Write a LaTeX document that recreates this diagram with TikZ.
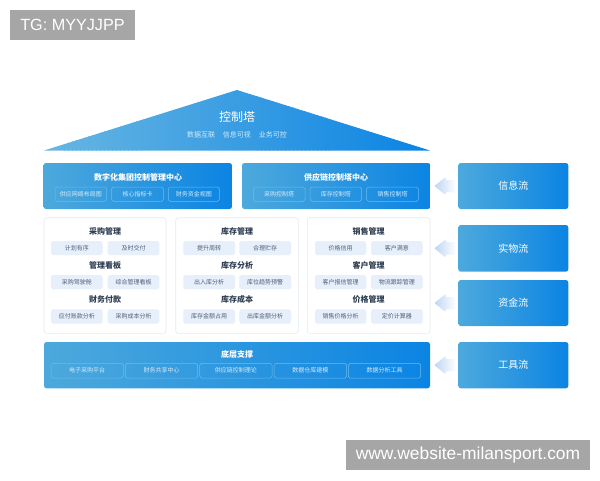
\documentclass[tikz,border=0pt]{standalone}
\usepackage{fontspec}
\setmainfont{Noto Sans CJK SC}
\newfontfamily\wmfont{Liberation Sans}
\usetikzlibrary{calc}
\definecolor{bluel}{HTML}{4DA9DC}
\definecolor{bluer}{HTML}{0B84E3}
\definecolor{roofl}{HTML}{68B6E2}
\definecolor{chipedge}{HTML}{6DBBEC}
\definecolor{softtxt}{HTML}{D5ECFA}
\definecolor{chipfill}{HTML}{E6EFFA}
\definecolor{chiptxt}{HTML}{4F6076}
\definecolor{headtxt}{HTML}{2F3E52}
\definecolor{panedge}{HTML}{E2EAF3}
\definecolor{wm}{HTML}{A6A6A6}
\definecolor{arrowtip}{HTML}{BDD5F5}
\tikzset{
 x=1pt,y=-1pt,
 bluebox/.style={rectangle,rounded corners=2.5pt,inner sep=0pt,left color=bluel,right color=bluer,text=white},
 panelbox/.style={rectangle,rounded corners=2.5pt,inner sep=0pt,fill=white,draw=panedge,line width=.6pt},
 glass/.style={rectangle,rounded corners=1.8pt,inner sep=0pt,draw=chipedge,line width=.5pt,text=softtxt,font=\fontsize{6}{6}\selectfont},
 chipbox/.style={rectangle,rounded corners=1.8pt,inner sep=0pt,fill=chipfill,text=chiptxt,font=\fontsize{6}{6}\selectfont},
 headtext/.style={inner sep=0pt,text=headtxt,font=\fontsize{8}{8}\selectfont\bfseries},
 bluehead/.style={inner sep=0pt,text=white,font=\fontsize{8}{8}\selectfont\bfseries},
 flowtext/.style={inner sep=0pt,text=white,font=\fontsize{10}{10}\selectfont},
 wmbox/.style={rectangle,inner sep=0pt,fill=wm,text=white},
}
% style, name, x1, y1, x2, y2, text
\newcommand{\rbox}[7]{%
 \pgfmathsetmacro{\cxv}{(#3+#5)/2}\pgfmathsetmacro{\cyv}{(#4+#6)/2}%
 \pgfmathsetmacro{\wv}{#5-#3}\pgfmathsetmacro{\hv}{#6-#4}%
 \node[#1,minimum width=\wv pt,minimum height=\hv pt] (#2) at (\cxv,\cyv) {#7};}
% flat vertical slices from x0 to x1, y0 to y1, colour A to colour B, n slices
\newcommand{\slices}[7]{%
 \pgfmathsetmacro{\stepw}{(#2-#1)/#7}%
 \foreach \i in {1,...,#7}{%
  \pgfmathsetmacro{\pc}{100*(\i-1)/(#7-1)}%
  \pgfmathsetmacro{\xa}{#1+\stepw*(\i-1)}%
  \pgfmathsetmacro{\xb}{#1+\stepw*\i+0.4}%
  \fill[#6!\pc!#5] (\xa,#3) rectangle (\xb,#4);}}
\newcommand{\flowhead}[1]{%
 \begin{scope}[shift={(#1.west)}]
 \clip (-23.5,0) -- (-13,-8.5) -- (-12,-6) -- (-1,-6) -- (-1,6) -- (-12,6) -- (-13,8.5) -- cycle;
 \slices{-24}{-1}{-10}{10}{arrowtip}{white}{23}
 \end{scope}}
\begin{document}
\begin{tikzpicture}
\useasboundingbox (0,0) rectangle (600,480);
% watermarks
\rbox{wmbox}{wmA}{10}{10}{135}{40}{\wmfont\fontsize{16.2}{16.2}\selectfont TG: MYYJJPP}
\rbox{wmbox}{wmB}{346}{440}{590}{470}{\wmfont\fontsize{17.4}{17.4}\selectfont www.website-milansport.com}
% roof
\coordinate (apex) at (237,90);
\coordinate (roofL) at (44,150.5);
\coordinate (roofR) at (430,150.5);
\begin{scope}
\clip (apex) -- (roofR) -- (roofL) -- cycle;
\slices{44}{430}{89}{151}{roofl}{bluer}{96}
\end{scope}
\node[inner sep=0pt,text=white,font=\fontsize{12}{12}\selectfont] (roofT) at (237,117) {控制塔};
\node[inner sep=0pt,text=softtxt,font=\fontsize{7}{7}\selectfont] (roofS) at (237,134.5) {数据互联\hspace{8pt}信息可视\hspace{8pt}业务可控};
% control centres
\rbox{bluebox}{ctrA}{43.5}{163}{232}{209}{}
\node[bluehead] (ctrAt) at (138,177) {数字化集团控制管理中心};
\rbox{glass}{a1}{55}{187}{106.7}{201.3}{供应网络布局图}
\rbox{glass}{a2}{111.7}{187}{163.3}{201.3}{核心指标卡}
\rbox{glass}{a3}{168.3}{187}{219.3}{201.3}{财务资金视图}
\rbox{bluebox}{ctrB}{242}{163}{430.3}{209}{}
\node[bluehead] (ctrBt) at (336,177) {供应链控制塔中心};
\rbox{glass}{b1}{253.3}{187}{305}{201.3}{采购控制塔}
\rbox{glass}{b2}{310}{187}{361.7}{201.3}{库存控制塔}
\rbox{glass}{b3}{366.7}{187}{418.3}{201.3}{销售控制塔}
% panels
\rbox{panelbox}{p1}{44}{217.7}{166}{333.3}{}
\rbox{panelbox}{p2}{175.7}{217.7}{298.3}{333.3}{}
\rbox{panelbox}{p3}{307.3}{217.7}{430}{333.3}{}
% panel 1
\node[headtext] (p1t1) at (105,231.3) {采购管理};
\rbox{chipbox}{c11}{51}{241}{102.7}{255}{计划有序}
\rbox{chipbox}{c12}{107.7}{241}{159.3}{255}{及时交付}
\node[headtext] (p1t2) at (105,265.7) {管理看板};
\rbox{chipbox}{c13}{51}{275}{102.7}{289.3}{采购驾驶舱}
\rbox{chipbox}{c14}{107.7}{275}{159.3}{289.3}{综合管理看板}
\node[headtext] (p1t3) at (105,299.7) {财务付款};
\rbox{chipbox}{c15}{51}{309.3}{102.7}{323.7}{应付账款分析}
\rbox{chipbox}{c16}{107.7}{309.3}{159.3}{323.7}{采购成本分析}
% panel 2
\node[headtext] (p2t1) at (237,231.3) {库存管理};
\rbox{chipbox}{c21}{183.3}{241}{235}{255}{提升周转}
\rbox{chipbox}{c22}{239.3}{241}{291}{255}{合理贮存}
\node[headtext] (p2t2) at (237,265.7) {库存分析};
\rbox{chipbox}{c23}{183.3}{275}{235}{289.3}{出入库分析}
\rbox{chipbox}{c24}{239.3}{275}{291}{289.3}{库位趋势预警}
\node[headtext] (p2t3) at (237,299.7) {库存成本};
\rbox{chipbox}{c25}{183.3}{309.3}{235}{323.7}{库存金额占用}
\rbox{chipbox}{c26}{239.3}{309.3}{291}{323.7}{出库金额分析}
% panel 3
\node[headtext] (p3t1) at (368.7,231.3) {销售管理};
\rbox{chipbox}{c31}{315}{241}{366.3}{255}{价格信用}
\rbox{chipbox}{c32}{371}{241}{422.7}{255}{客户满意}
\node[headtext] (p3t2) at (368.7,265.7) {客户管理};
\rbox{chipbox}{c33}{315}{275}{366.3}{289.3}{客户报信管理}
\rbox{chipbox}{c34}{371}{275}{422.7}{289.3}{物流跟踪管理}
\node[headtext] (p3t3) at (368.7,299.7) {价格管理};
\rbox{chipbox}{c35}{315}{309.3}{366.3}{323.7}{销售价格分析}
\rbox{chipbox}{c36}{371}{309.3}{422.7}{323.7}{定价计算器}
% base
\rbox{bluebox}{base}{44}{342}{430}{388.3}{}
\node[bluehead] (baset) at (237,354.3) {底层支撑};
\rbox{glass}{d1}{51}{363.3}{123.3}{378}{电子采购平台}
\rbox{glass}{d2}{125.3}{363.3}{197.7}{378}{财务共享中心}
\rbox{glass}{d3}{199.7}{363.3}{272}{378}{供应链控制理论}
\rbox{glass}{d4}{274}{363.3}{346.7}{378}{数据仓库建模}
\rbox{glass}{d5}{348.3}{363.3}{420.7}{378}{数据分析工具}
% flows
\rbox{bluebox,flowtext}{f1}{458.3}{163}{568.3}{209}{信息流}
\rbox{bluebox,flowtext}{f2}{458.3}{225}{568.3}{271.7}{实物流}
\rbox{bluebox,flowtext}{f3}{458.3}{280}{568.3}{326}{资金流}
\rbox{bluebox,flowtext}{f4}{458.3}{342}{568.3}{388.3}{工具流}
\flowhead{f1}\flowhead{f2}\flowhead{f3}\flowhead{f4}
\end{tikzpicture}
\end{document}
